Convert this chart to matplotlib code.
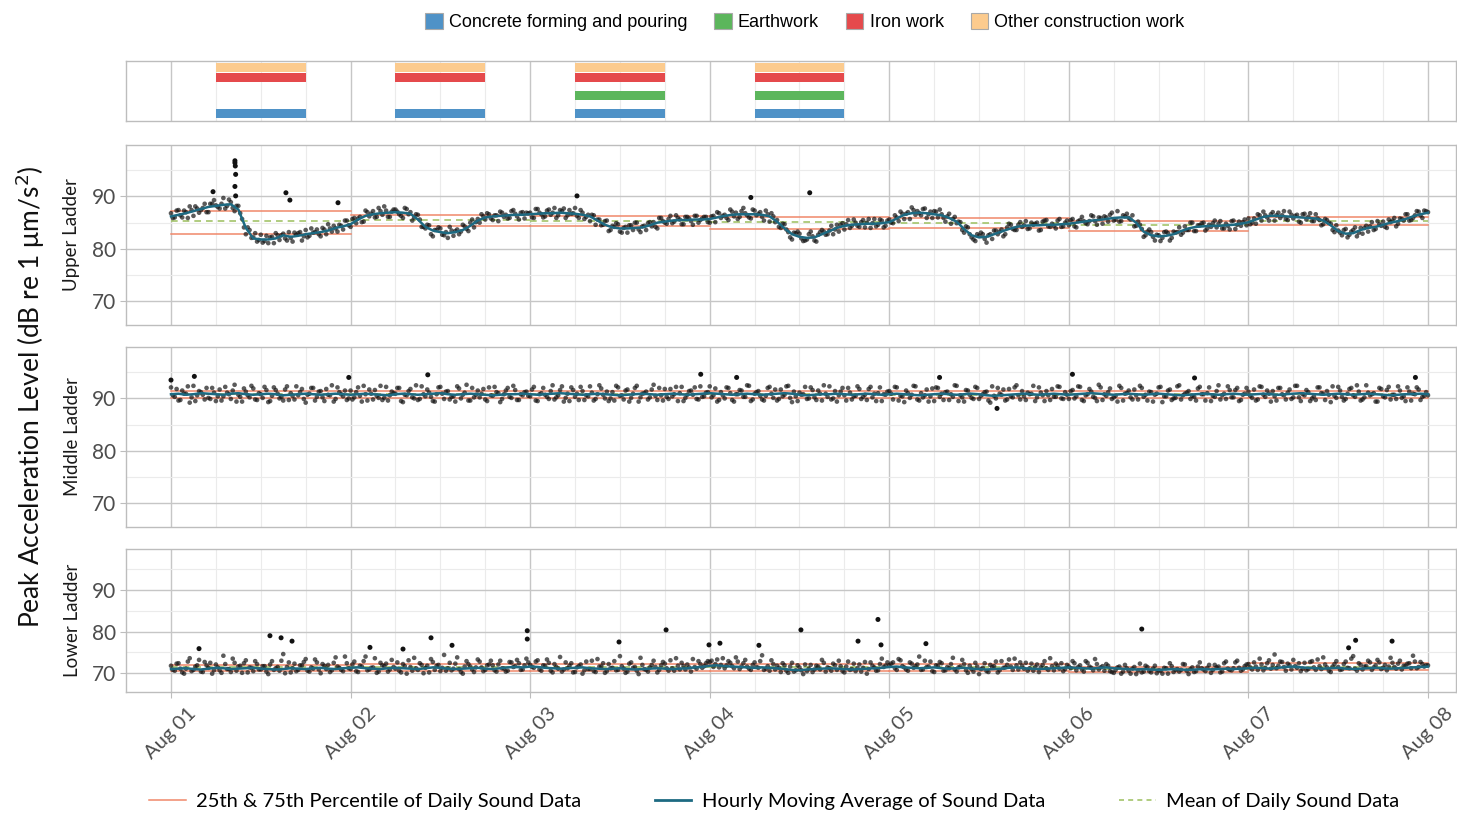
import numpy as np
import matplotlib
matplotlib.use("Agg")
import matplotlib.pyplot as plt
from matplotlib.patches import Patch
from matplotlib.lines import Line2D
from matplotlib.ticker import FixedLocator

plt.rcParams['font.family'] = ['Lato', 'DejaVu Sans']

# ---------------- data ----------------
day_labels = ['Aug 01', 'Aug 02', 'Aug 03', 'Aug 04', 'Aug 05', 'Aug 06', 'Aug 07', 'Aug 08']
ladders = ['Upper Ladder', 'Middle Ladder', 'Lower Ladder']

activity_names = ['Concrete forming and pouring', 'Earthwork', 'Iron work', 'Other construction work']
activity_day = [0, 0, 0, 1, 1, 1, 2, 2, 2, 2, 3, 3, 3, 3]
activity_kind = ['Other construction work', 'Iron work', 'Concrete forming and pouring',
                 'Other construction work', 'Iron work', 'Concrete forming and pouring',
                 'Other construction work', 'Iron work', 'Earthwork', 'Concrete forming and pouring',
                 'Other construction work', 'Iron work', 'Earthwork', 'Concrete forming and pouring']
work_start_hour = [6] * 14
work_end_hour = [18] * 14

# sound readings on the hour and half hour (dB)
upper_pts = [
    86.8, 86.0, 87.4, 86.0, 87.0, 88.1, 86.3, 87.7, 87.4, 88.6, 87.0, 88.6,
    88.3, 87.7, 89.7, 88.2, 88.9, 87.2, 88.2, 85.7, 82.8, 83.6, 82.2, 81.4,
    82.7, 81.5, 81.1, 82.3, 83.0, 81.7, 82.9, 81.6, 82.1, 83.1, 83.0, 81.6,
    83.6, 82.5, 83.1, 83.7, 82.4, 83.7, 84.7, 83.3, 83.9, 84.6, 83.7, 85.4,
    84.2, 85.9, 85.8, 85.1, 87.3, 86.2, 87.2, 86.1, 87.2, 88.1, 86.1, 87.1,
    87.5, 86.6, 85.9, 87.6, 87.0, 86.0, 86.5, 84.2, 83.9, 84.5, 82.4, 83.6,
    83.9, 82.6, 82.1, 83.5, 83.4, 82.8, 84.6, 83.8, 85.0, 84.1, 85.7, 86.6,
    85.6, 86.6, 85.5, 86.4, 87.1, 86.1, 85.8, 87.2, 86.7, 85.6, 87.0, 86.9,
    86.9, 85.9, 87.6, 86.6, 86.2, 87.5, 86.9, 85.9, 87.4, 87.7, 86.4, 86.7,
    87.8, 85.9, 86.9, 86.1, 85.3, 86.4, 85.6, 84.5, 85.3, 83.4, 84.4, 84.9,
    83.3, 84.0, 83.1, 84.5, 85.0, 83.7, 84.3, 83.6, 85.1, 85.1, 83.9, 85.9,
    85.0, 85.7, 84.9, 86.4, 85.6, 84.7, 86.1, 85.3, 86.3, 85.0, 85.8, 86.1,
    85.0, 86.3, 87.0, 85.9, 86.5, 85.5, 87.1, 86.9, 86.1, 87.8, 86.4, 85.8,
    87.3, 86.7, 86.1, 87.3, 85.2, 86.2, 85.5, 84.0, 84.7, 83.2, 81.8, 83.0,
    82.9, 81.5, 81.8, 83.3, 81.6, 82.7, 83.6, 82.7, 83.5, 82.8, 84.6, 84.6,
    83.7, 85.5, 84.4, 85.0, 84.2, 85.5, 85.0, 84.0, 85.7, 84.6, 85.4, 84.4,
    85.6, 84.9, 86.0, 87.1, 85.7, 87.0, 87.9, 86.5, 86.8, 87.6, 85.9, 87.1,
    87.2, 86.0, 86.6, 85.2, 86.7, 85.7, 84.9, 85.1, 83.1, 84.1, 82.2, 81.5,
    82.5, 82.8, 81.2, 82.8, 83.5, 82.8, 83.7, 82.8, 84.8, 83.8, 83.6, 85.1,
    84.5, 83.8, 85.0, 84.8, 83.5, 85.2, 85.5, 84.2, 84.4, 85.4, 84.2, 85.0,
    84.5, 85.7, 84.1, 85.5, 85.3, 84.7, 86.4, 85.3, 86.0, 84.8, 86.0, 86.5,
    85.4, 87.2, 85.3, 86.2, 85.9, 86.4, 84.4, 84.6, 82.3, 83.3, 83.2, 81.6,
    82.6, 82.1, 83.3, 81.6, 83.3, 83.2, 82.7, 84.3, 83.6, 85.0, 83.4, 84.5,
    85.0, 83.9, 84.2, 85.4, 84.8, 83.9, 84.8, 83.7, 85.4, 84.6, 84.4, 85.6,
    85.8, 85.0, 84.8, 86.4, 87.1, 86.0, 86.6, 85.4, 86.9, 86.4, 85.7, 87.1,
    85.8, 86.5, 85.0, 86.7, 86.1, 85.3, 86.6, 85.5, 84.7, 85.5, 84.8, 83.2,
    83.5, 82.6, 83.8, 82.7, 83.6, 82.4, 84.0, 84.0, 83.3, 85.1, 83.8, 84.7,
    85.2, 84.0, 85.1, 85.9, 84.8, 85.7, 86.6, 85.4, 85.9, 87.2, 86.4, 87.3,
    87.0]

# sound readings at quarter past and quarter to the hour (dB)
upper_pts_q = [
    85.9, 87.3, 86.4, 87.3, 85.9, 87.4, 88.1, 86.9, 87.8, 87.0, 88.6, 89.3,
    88.0, 88.6, 87.7, 89.4, 87.8, 88.2, 86.8, 84.1, 84.1, 82.1, 83.0, 81.7,
    81.2, 82.5, 82.2, 81.1, 82.6, 82.6, 82.0, 83.2, 81.4, 82.7, 83.2, 82.4,
    82.2, 83.9, 83.2, 82.8, 84.0, 82.8, 83.9, 84.4, 83.3, 84.4, 85.4, 84.5,
    85.7, 84.9, 86.1, 85.2, 87.0, 86.7, 86.0, 87.8, 86.5, 87.3, 86.1, 87.5,
    87.1, 86.3, 87.8, 86.6, 85.4, 86.6, 85.6, 84.2, 84.6, 82.8, 83.6, 84.1,
    82.7, 83.2, 84.2, 82.5, 83.7, 83.3, 84.3, 83.4, 85.6, 85.1, 85.0, 86.2,
    86.8, 85.8, 86.4, 85.3, 86.9, 86.5, 85.9, 87.4, 86.2, 86.9, 85.8, 86.8,
    86.0, 87.6, 86.9, 86.0, 87.3, 86.5, 87.8, 86.4, 87.2, 85.9, 87.4, 86.8,
    86.3, 87.4, 85.7, 86.5, 86.5, 84.6, 85.6, 84.6, 85.4, 83.6, 84.2, 84.7,
    83.1, 84.2, 84.5, 83.6, 85.0, 83.2, 84.4, 84.9, 84.3, 84.2, 85.9, 85.3,
    84.8, 86.3, 85.2, 85.9, 84.7, 86.1, 85.8, 84.6, 86.3, 85.5, 86.1, 85.1,
    86.2, 85.1, 86.8, 86.3, 85.9, 87.5, 86.2, 85.7, 87.2, 86.8, 86.0, 87.5,
    86.4, 87.0, 85.4, 86.6, 86.8, 85.1, 84.2, 84.8, 83.7, 82.2, 83.1, 83.3,
    82.0, 81.6, 82.8, 82.4, 81.4, 83.2, 83.3, 82.8, 84.4, 83.7, 83.3, 84.9,
    84.7, 84.0, 85.6, 84.4, 85.1, 84.1, 85.7, 84.9, 84.3, 85.6, 84.1, 85.4,
    85.0, 86.4, 85.3, 86.7, 86.7, 85.7, 87.4, 87.2, 86.4, 87.7, 86.6, 85.9,
    87.1, 87.5, 85.9, 86.2, 84.8, 86.1, 85.2, 83.6, 84.3, 82.8, 81.8, 82.8,
    83.1, 81.9, 82.6, 81.9, 83.5, 83.3, 82.4, 84.1, 84.6, 83.6, 84.6, 84.2,
    85.3, 83.9, 84.6, 85.0, 83.6, 85.4, 84.3, 84.8, 83.9, 85.7, 84.3, 85.4,
    85.5, 84.3, 85.3, 86.1, 84.9, 85.3, 86.2, 84.6, 85.9, 86.2, 85.2, 86.9,
    85.6, 85.2, 86.4, 86.7, 85.6, 84.3, 85.2, 83.8, 82.6, 83.7, 82.3, 82.7,
    81.5, 83.2, 83.0, 82.1, 83.1, 84.1, 83.1, 83.6, 85.0, 83.4, 84.5, 84.9,
    83.5, 84.6, 84.9, 84.1, 85.3, 83.9, 84.4, 85.3, 83.8, 85.2, 85.1, 84.5,
    84.7, 85.8, 86.6, 85.4, 86.4, 85.4, 87.0, 86.4, 85.9, 87.2, 85.5, 86.5,
    86.3, 85.2, 86.6, 85.6, 86.8, 85.3, 85.8, 84.5, 85.7, 85.0, 83.6, 84.5,
    83.1, 83.6, 82.2, 83.3, 84.1, 83.1, 82.9, 84.4, 84.3, 83.6, 85.3, 84.4,
    84.2, 85.6, 85.4, 84.3, 85.8, 85.4, 86.6, 85.5, 86.4, 87.1, 85.9, 87.2]

middle_pts = [
    92.1, 90.3, 89.6, 91.5, 90.9, 89.2, 92.4, 90.6, 91.2, 89.8, 90.1, 92.0,
    89.5, 91.7, 90.4, 91.1, 89.9, 92.6, 90.7, 89.4, 91.3, 90.2, 91.9, 89.7,
    90.8, 92.2, 89.3, 90.5, 91.6, 90.0, 89.6, 92.3, 91.0, 89.8, 90.6, 91.8,
    89.2, 90.9, 92.0, 90.3, 91.4, 89.5, 90.7, 92.5, 89.9, 91.2, 90.4, 89.7,
    91.5, 90.2, 92.1, 89.4, 90.8, 91.7, 89.8, 90.5, 92.4, 90.1, 89.6, 91.3,
    90.9, 92.0, 89.3, 90.6, 91.8, 90.0, 89.7, 92.3, 90.4, 91.1, 89.5, 90.8,
    92.2, 89.9, 91.4, 90.3, 89.4, 91.9, 90.7, 92.6, 89.6, 90.2, 91.5, 90.9,
    89.8, 92.1, 90.5, 91.2, 89.3, 90.8, 92.0, 90.1, 91.6, 89.7, 90.6, 91.3,
    90.4, 92.2, 89.5, 91.0, 90.7, 89.9, 92.5, 90.2, 91.6, 89.4, 90.9, 92.1,
    90.3, 89.7, 91.4, 90.6, 92.3, 89.6, 90.8, 91.9, 90.0, 89.5, 91.2, 92.4,
    90.5, 89.8, 91.7, 90.1, 92.0, 89.4, 90.9, 91.3, 90.2, 92.6, 89.7, 90.6,
    91.8, 89.9, 90.4, 92.2, 91.0, 89.5, 90.7, 91.5, 92.1, 89.8, 90.3, 91.1,
    92.3, 90.6, 89.4, 91.2, 90.0, 92.0, 89.7, 90.8, 91.6, 90.3, 92.5, 89.5,
    90.9, 91.4, 89.8, 90.5, 92.2, 90.1, 89.6, 91.7, 90.7, 92.4, 89.3, 90.4,
    91.1, 90.8, 89.9, 92.1, 90.2, 91.5, 89.6, 90.9, 92.3, 90.0, 89.4, 91.3,
    90.6, 92.0, 89.8, 90.5, 91.8, 90.3, 89.7, 92.2, 90.9, 91.0, 89.5, 90.7,
    91.4, 89.8, 92.1, 90.5, 89.3, 91.0, 90.7, 92.3, 89.6, 90.2, 91.7, 90.4,
    89.5, 92.0, 90.9, 91.2, 89.7, 90.3, 92.4, 90.6, 89.4, 91.5, 90.1, 92.2,
    89.9, 90.8, 91.3, 89.2, 90.5, 92.0, 90.7, 89.6, 91.8, 90.2, 92.5, 89.8,
    90.4, 91.1, 90.9, 89.5, 92.1, 90.6, 91.4, 89.7, 90.3, 92.3, 90.0, 91.2,
    89.9, 91.6, 90.4, 92.2, 89.5, 90.8, 91.3, 90.1, 92.6, 89.7, 90.5, 91.9,
    90.2, 89.4, 92.0, 90.9, 91.5, 89.8, 90.6, 92.4, 90.3, 89.6, 91.2, 90.7,
    92.1, 89.3, 90.4, 91.7, 90.0, 92.3, 89.8, 90.9, 91.4, 90.5, 89.6, 92.2,
    90.8, 91.0, 89.5, 90.3, 92.5, 90.6, 89.9, 91.6, 90.2, 92.0, 89.7, 90.9,
    91.3, 90.1, 89.6, 92.3, 90.7, 91.5, 89.4, 90.4, 92.0, 90.8, 89.8, 91.7,
    90.2, 92.4, 89.5, 90.6, 91.2, 90.0, 89.7, 92.1, 90.9, 91.4, 89.3, 90.5,
    92.2, 90.3, 89.9, 91.8, 90.6, 92.5, 89.6, 90.2, 91.1, 90.8, 89.4, 92.0,
    90.4, 91.6, 89.8, 90.7, 92.3, 90.1, 89.5, 91.3, 90.9, 92.1, 89.7, 90.5,
    90.6]

middle_pts_q = [
    90.6, 91.8, 89.7, 90.9, 92.3, 90.2, 89.5, 91.4, 90.7, 92.0, 89.9, 91.1,
    90.4, 89.6, 92.2, 90.8, 91.5, 89.4, 90.3, 91.9, 90.6, 92.4, 89.8, 91.0,
    90.1, 91.6, 89.5, 92.1, 90.9, 90.3, 91.7, 89.7, 90.5, 92.3, 91.2, 89.9,
    90.7, 92.0, 89.6, 91.3, 90.2, 91.8, 90.6, 89.4, 92.1, 90.8, 91.5, 90.0,
    89.8, 91.2, 90.5, 92.4, 89.6, 90.9, 91.6, 90.1, 89.7, 92.2, 90.6, 91.0,
    92.0, 89.5, 90.7, 91.4, 90.2, 92.5, 89.9, 90.8, 91.7, 90.3, 89.4, 92.1,
    90.9, 91.3, 89.8, 90.4, 92.3, 90.0, 91.1, 89.6, 92.0, 90.7, 90.2, 91.8,
    89.5, 90.6, 92.2, 91.0, 89.9, 91.5, 90.3, 92.4, 89.7, 90.8, 91.2, 90.5,
    91.7, 89.6, 90.8, 92.0, 90.3, 91.4, 89.8, 90.6, 92.3, 90.1, 89.5, 91.6,
    90.9, 92.2, 89.7, 90.4, 91.1, 89.9, 92.5, 90.7, 91.3, 90.0, 89.6, 92.1,
    90.6, 91.5, 89.4, 90.9, 92.4, 90.2, 91.0, 89.8, 91.7, 90.5, 92.0, 89.6,
    90.3, 91.8, 90.8, 89.5, 92.2, 90.1, 91.4, 90.7, 89.9, 92.3, 90.4, 91.2,
    90.2, 91.9, 89.7, 90.6, 92.1, 91.0, 89.4, 90.8, 91.5, 90.3, 92.4, 89.8,
    91.2, 90.5, 89.6, 92.0, 90.9, 91.7, 89.9, 90.4, 92.3, 90.1, 91.3, 89.5,
    90.7, 92.2, 90.0, 91.6, 89.7, 90.9, 92.5, 90.3, 89.8, 91.4, 90.6, 92.0,
    89.6, 91.1, 90.4, 92.3, 89.9, 90.7, 91.8, 90.2, 89.5, 92.1, 90.8, 91.3,
    90.9, 92.2, 89.6, 90.4, 91.5, 90.1, 92.4, 89.8, 91.0, 90.6, 89.4, 91.9,
    92.1, 90.3, 89.7, 91.3, 90.8, 92.5, 89.5, 90.2, 91.6, 90.7, 89.9, 92.0,
    90.5, 91.2, 89.6, 92.3, 90.0, 90.9, 91.7, 89.8, 90.4, 92.1, 90.6, 91.4,
    89.7, 90.8, 92.4, 90.2, 91.1, 89.5, 90.6, 91.8, 90.3, 92.2, 89.9, 90.7,
    91.4, 90.0, 92.3, 89.7, 90.6, 91.8, 90.3, 89.5, 92.1, 90.8, 91.2, 89.9,
    90.5, 92.4, 89.6, 91.0, 90.2, 91.7, 89.8, 92.0, 90.7, 91.3, 89.4, 90.9,
    92.2, 90.4, 91.5, 89.7, 90.1, 92.5, 90.6, 91.1, 89.9, 90.3, 91.9, 90.8,
    89.6, 92.1, 90.5, 91.4, 89.8, 90.9, 92.3, 90.2, 91.6, 89.5, 90.7, 92.0,
    90.5, 91.7, 89.8, 92.2, 90.3, 90.9, 91.4, 89.6, 92.0, 90.6, 91.1, 89.9,
    92.4, 90.2, 90.8, 91.6, 89.5, 90.4, 92.1, 91.0, 89.7, 90.7, 92.3, 90.1,
    91.5, 89.6, 90.9, 92.0, 90.3, 91.3, 89.8, 92.5, 90.6, 91.0, 89.4, 91.8,
    90.2, 92.2, 90.7, 89.9, 91.5, 90.4, 92.1, 89.6, 90.8, 91.7, 90.3, 91.2]

lower_pts = [
    71.8, 70.6, 72.4, 70.2, 71.1, 73.6, 70.8, 71.9, 70.4, 72.7, 71.3, 69.9,
    72.1, 70.7, 74.2, 71.0, 70.3, 72.5, 71.6, 70.1, 73.1, 71.4, 70.5, 72.2,
    70.9, 71.7, 69.8, 72.9, 71.2, 70.6, 74.6, 71.5, 70.2, 72.3, 70.8, 71.9,
    73.4, 70.4, 71.1, 72.6, 70.0, 71.8, 72.0, 70.7, 73.8, 71.3, 70.5, 72.4,
    71.0, 72.8, 70.3, 71.6, 74.0, 70.9, 71.4, 70.1, 72.5, 71.7, 70.4, 73.2,
    71.1, 70.6, 72.2, 69.9, 71.5, 73.7, 70.8, 72.0, 71.3, 70.2, 72.7, 71.8,
    70.5, 74.4, 71.2, 70.7, 72.3, 71.0, 69.9, 72.9, 71.6, 70.3, 73.3, 71.4,
    70.8, 72.1, 71.9, 70.4, 73.0, 71.1, 70.6, 72.6, 71.7, 72.4, 70.9, 73.5,
    72.0, 71.3, 73.1, 70.6, 71.8, 72.5, 70.2, 71.5, 73.9, 70.9, 71.2, 72.4,
    70.3, 71.7, 69.9, 72.8, 71.0, 70.5, 73.4, 71.6, 70.1, 72.2, 71.3, 70.7,
    74.1, 71.1, 70.4, 72.6, 71.5, 69.8, 72.0, 70.8, 71.4, 73.0, 70.2, 71.9,
    72.3, 70.6, 71.2, 73.6, 70.9, 71.7, 72.1, 70.4, 71.5, 72.9, 71.3, 72.4,
    72.7, 71.5, 73.3, 72.0, 71.2, 72.9, 71.7, 73.8, 71.0, 72.4, 71.6, 70.8,
    72.6, 71.3, 74.3, 71.1, 70.6, 72.2, 71.8, 70.3, 71.9, 70.1, 72.5, 70.7,
    71.4, 69.8, 70.5, 72.0, 70.9, 71.6, 73.2, 70.4, 71.2, 72.3, 70.8, 71.7,
    70.2, 72.8, 71.0, 70.5, 72.1, 71.3, 69.9, 72.6, 71.4, 70.7, 73.5, 71.8,
    71.9, 72.6, 70.8, 73.1, 71.4, 70.6, 72.3, 71.7, 74.0, 70.9, 71.5, 72.8,
    70.3, 71.8, 72.4, 70.7, 71.2, 73.7, 70.4, 71.6, 72.2, 70.1, 71.0, 72.5,
    69.8, 71.3, 70.5, 72.0, 71.7, 70.2, 72.9, 71.4, 73.3, 70.8, 71.9, 72.6,
    71.1, 70.6, 72.3, 71.5, 70.3, 72.0, 71.2, 73.6, 70.7, 71.8, 72.4, 71.0,
    71.6, 72.9, 70.7, 71.9, 70.4, 72.5, 71.3, 73.4, 70.9, 71.7, 72.2, 70.5,
    70.1, 71.4, 69.9, 72.0, 70.6, 71.1, 69.8, 72.3, 70.4, 71.5, 70.2, 71.8,
    70.7, 69.9, 71.2, 72.4, 70.3, 71.0, 70.8, 72.1, 69.8, 71.4, 70.5, 72.6,
    70.9, 71.3, 70.1, 72.0, 71.6, 70.4, 72.8, 70.8, 71.2, 73.0, 70.6, 71.7,
    72.2, 70.9, 71.6, 73.5, 70.7, 72.4, 71.1, 74.5, 71.8, 72.7, 70.6, 71.9,
    73.2, 71.3, 70.5, 72.5, 71.0, 72.9, 70.8, 71.7, 73.8, 71.4, 70.3, 72.2,
    71.5, 70.9, 72.8, 71.2, 74.1, 70.6, 72.0, 71.6, 73.0, 70.8, 71.9, 72.6,
    71.3, 70.7, 73.7, 71.5, 72.3, 70.9, 71.8, 72.4, 74.2, 71.2, 72.7, 71.6,
    71.9]

lower_pts_q = [
    70.8, 72.3, 71.1, 69.9, 72.8, 70.5, 71.6, 73.2, 70.3, 71.9, 72.5, 70.7,
    71.4, 70.1, 72.2, 71.0, 73.5, 70.6, 71.8, 72.4, 70.2, 71.3, 72.9, 70.9,
    71.7, 70.4, 72.1, 70.8, 71.5, 73.0, 70.0, 72.6, 71.2, 70.5, 71.9, 72.7,
    70.6, 71.4, 73.3, 70.9, 72.2, 71.0, 70.3, 72.5, 71.6, 70.8, 74.0, 71.2,
    72.1, 70.5, 71.8, 72.9, 70.7, 71.3, 73.6, 70.4, 71.9, 72.3, 70.9, 71.5,
    72.6, 70.2, 71.7, 73.1, 70.6, 71.2, 72.4, 70.0, 71.8, 73.4, 70.8, 72.0,
    71.3, 70.6, 72.5, 71.1, 73.8, 70.3, 71.6, 72.2, 70.9, 71.4, 72.8, 70.5,
    71.9, 73.0, 70.7, 72.1, 71.2, 70.4, 72.7, 71.5, 73.2, 70.8, 71.9, 72.6,
    71.5, 72.8, 70.9, 71.9, 73.3, 70.6, 72.2, 71.1, 70.4, 72.6, 71.8, 70.2,
    71.4, 72.1, 70.7, 71.0, 73.0, 70.3, 71.6, 72.4, 70.5, 71.2, 72.9, 70.8,
    71.7, 70.1, 72.3, 71.3, 70.6, 73.7, 71.0, 70.4, 72.0, 71.5, 70.8, 72.7,
    71.2, 73.1, 70.6, 71.8, 72.5, 70.9, 71.4, 73.4, 71.1, 72.2, 71.7, 72.9,
    73.0, 72.2, 71.4, 73.6, 71.9, 72.5, 71.2, 72.8, 71.6, 73.2, 71.1, 72.0,
    71.5, 72.9, 70.8, 71.7, 73.1, 70.9, 71.3, 72.4, 70.6, 71.6, 70.4, 71.9,
    70.7, 72.1, 71.1, 70.3, 71.8, 70.9, 72.5, 71.4, 70.6, 71.9, 73.0, 70.5,
    71.6, 70.8, 72.3, 71.2, 70.4, 72.7, 71.0, 71.8, 70.6, 72.2, 71.5, 72.6,
    72.3, 71.2, 73.4, 71.7, 70.9, 72.6, 71.3, 72.1, 70.8, 73.0, 71.6, 70.5,
    71.9, 72.7, 70.6, 71.5, 72.2, 70.9, 71.4, 73.2, 70.7, 71.8, 70.4, 71.6,
    71.0, 72.4, 70.3, 71.5, 72.8, 70.7, 71.3, 72.0, 71.6, 73.5, 70.9, 71.8,
    72.5, 71.2, 70.6, 72.1, 71.4, 72.9, 70.8, 71.7, 72.3, 71.1, 70.5, 72.0,
    71.2, 72.4, 71.5, 70.9, 72.9, 71.6, 70.7, 72.2, 71.4, 70.6, 71.8, 70.3,
    70.8, 71.6, 70.4, 71.2, 69.9, 71.5, 70.7, 70.2, 71.8, 70.5, 71.1, 70.0,
    70.6, 71.3, 69.9, 71.7, 70.8, 70.4, 72.2, 70.6, 71.0, 70.3, 71.6, 71.2,
    70.5, 72.0, 70.8, 71.4, 70.2, 72.4, 71.1, 70.7, 72.6, 71.3, 70.9, 72.1,
    71.4, 72.6, 70.8, 72.1, 71.3, 73.1, 72.0, 71.2, 72.8, 71.5, 72.3, 70.9,
    71.7, 72.4, 71.1, 70.7, 72.7, 71.4, 73.3, 71.0, 72.1, 70.6, 71.6, 72.9,
    70.8, 72.2, 71.3, 73.5, 71.1, 72.4, 70.9, 71.7, 72.6, 71.4, 73.2, 71.0,
    72.0, 71.6, 72.5, 71.1, 73.0, 71.8, 72.3, 71.2, 72.8, 71.5, 72.2, 71.9]

# hourly moving average (dB)
upper_ma = [
    86.2, 86.5, 86.8, 87.2, 87.6, 88.0, 88.2, 88.4, 88.5, 87.5, 84.0, 82.0,
    81.8, 81.8, 82.0, 82.6, 82.3, 82.5, 82.8, 83.0, 83.2, 83.5, 84.0, 84.3,
    84.7, 85.6, 86.3, 86.6, 86.8, 86.9, 87.0, 86.9, 86.7, 85.6, 84.2, 83.5,
    83.2, 83.0, 83.2, 83.6, 84.4, 85.4, 86.0, 86.2, 86.3, 86.4, 86.5, 86.5,
    86.6, 86.7, 86.8, 86.8, 86.9, 86.8, 86.7, 86.5, 86.2, 85.4, 84.6, 84.1,
    83.9, 83.9, 84.0, 84.1, 84.5, 85.0, 85.2, 85.4, 85.5, 85.5, 85.6, 85.6,
    85.7, 86.0, 86.3, 86.5, 86.6, 86.6, 86.6, 86.5, 86.2, 85.2, 83.9, 82.8,
    82.3, 82.1, 82.2, 82.8, 83.4, 84.0, 84.4, 84.6, 84.7, 84.8, 84.8, 84.9,
    85.1, 85.8, 86.5, 86.8, 86.9, 86.8, 86.6, 86.4, 85.9, 85.2, 83.8, 82.6,
    82.2, 82.3, 82.8, 83.3, 83.8, 84.2, 84.4, 84.5, 84.5, 84.6, 84.6, 84.7,
    84.8, 85.0, 85.2, 85.4, 85.5, 85.7, 85.9, 86.0, 86.0, 85.0, 83.3, 82.6,
    82.4, 82.5, 82.8, 83.4, 83.9, 84.2, 84.3, 84.4, 84.4, 84.5, 84.6, 84.8,
    85.1, 85.6, 86.1, 86.3, 86.3, 86.2, 86.1, 86.0, 85.9, 85.8, 85.4, 84.5,
    83.4, 82.9, 83.0, 83.6, 84.0, 84.2, 84.6, 85.0, 85.3, 85.7, 86.2, 86.6,
    86.9]

middle_ma = [
    90.8, 90.9, 90.7, 90.8, 91.0, 90.9, 90.8, 90.7, 90.9, 91.0, 90.8, 90.7,
    90.8, 90.9, 90.8, 90.6, 90.7, 90.8, 90.9, 90.8, 90.7, 90.8, 90.9, 90.8,
    90.7, 90.8, 90.9, 90.8, 90.7, 90.6, 90.8, 90.9, 90.8, 90.7, 90.8, 90.9,
    91.0, 90.8, 90.7, 90.8, 90.9, 90.8, 90.7, 90.6, 90.7, 90.8, 90.8, 90.9,
    90.8, 90.7, 90.8, 90.9, 91.0, 90.9, 90.8, 90.7, 90.8, 90.9, 90.8, 90.7,
    90.6, 90.7, 90.8, 90.9, 90.8, 90.7, 90.8, 90.9, 90.8, 90.7, 90.8, 90.9,
    91.0, 90.9, 90.8, 90.7, 90.8, 90.9, 90.8, 90.7, 90.8, 90.9, 91.0, 90.9,
    90.7, 90.6, 90.7, 90.8, 90.8, 90.9, 90.8, 90.7, 90.8, 90.9, 90.8, 90.7,
    90.8, 90.9, 90.8, 90.7, 90.6, 90.7, 90.8, 90.9, 90.8, 90.7, 90.8, 90.9,
    90.8, 90.6, 90.5, 90.6, 90.7, 90.8, 90.9, 90.8, 90.7, 90.8, 90.9, 90.8,
    90.7, 90.8, 90.9, 91.0, 90.9, 90.8, 90.7, 90.8, 90.9, 90.8, 90.7, 90.8,
    90.9, 90.8, 90.7, 90.6, 90.7, 90.8, 90.9, 90.8, 90.7, 90.8, 90.9, 90.8,
    90.7, 90.8, 90.9, 90.8, 90.7, 90.8, 90.9, 91.0, 90.9, 90.8, 90.7, 90.8,
    90.9, 90.8, 90.7, 90.8, 90.9, 90.8, 90.7, 90.6, 90.7, 90.8, 90.8, 90.9,
    90.8]

lower_ma = [
    71.0, 71.1, 71.2, 71.0, 70.9, 71.1, 71.3, 71.2, 71.0, 71.1, 71.2, 71.3,
    71.1, 71.0, 70.9, 71.0, 71.2, 71.1, 71.0, 71.2, 71.3, 71.1, 71.0, 71.2,
    71.3, 71.4, 71.2, 71.1, 71.0, 71.2, 71.3, 71.2, 71.1, 71.0, 71.2, 71.4,
    71.3, 71.1, 71.0, 71.1, 71.2, 71.3, 71.1, 71.0, 71.2, 71.4, 71.5, 71.4,
    71.6, 71.5, 71.3, 71.2, 71.1, 71.2, 71.3, 71.4, 71.2, 71.1, 71.0, 71.1,
    71.2, 71.0, 70.9, 71.0, 71.1, 71.2, 71.1, 71.0, 71.1, 71.2, 71.4, 71.5,
    71.8, 71.9, 71.7, 71.6, 71.5, 71.4, 71.3, 71.4, 71.3, 71.2, 71.0, 70.8,
    70.7, 70.9, 71.0, 71.1, 71.2, 71.1, 71.0, 70.9, 71.0, 71.1, 71.2, 71.3,
    71.5, 71.6, 71.4, 71.3, 71.2, 71.3, 71.4, 71.2, 71.1, 71.2, 71.3, 71.1,
    71.0, 70.9, 71.0, 71.1, 71.3, 71.4, 71.2, 71.1, 71.0, 71.1, 71.2, 71.3,
    71.4, 71.3, 71.2, 71.1, 71.3, 71.4, 71.2, 71.1, 71.0, 70.9, 71.0, 70.9,
    70.8, 70.9, 71.0, 70.9, 70.8, 70.9, 71.0, 70.9, 71.0, 71.1, 71.0, 71.1,
    71.2, 71.3, 71.2, 71.1, 71.3, 71.5, 71.6, 71.4, 71.3, 71.2, 71.1, 71.2,
    71.3, 71.1, 71.0, 71.1, 71.2, 71.3, 71.2, 71.1, 71.2, 71.3, 71.4, 71.5,
    71.6]

# isolated high readings (time in days since Aug 01, dB)
upper_out_t = [0.356, 0.356, 0.358, 0.360, 0.356, 0.360, 0.234, 0.640, 0.662, 0.930, 2.261, 3.229, 3.557]
upper_out_v = [96.8, 96.4, 95.8, 94.2, 91.9, 90.1, 90.9, 90.7, 89.3, 88.8, 90.1, 89.8, 90.7]
middle_out_t = [0.000, 0.130, 0.990, 1.430, 2.950, 3.150, 4.280, 5.020, 5.700, 6.930, 4.600]
middle_out_v = [93.5, 94.2, 94.0, 94.5, 94.6, 94.0, 94.0, 94.6, 93.9, 94.0, 88.1]
lower_out_t = [0.156, 0.551, 0.613, 0.674, 1.108, 1.292, 1.448, 1.565, 1.984, 1.984, 2.495, 2.757,
               2.996, 3.057, 3.274, 3.508, 3.826, 3.937, 3.954, 4.204, 5.406, 6.558, 6.597, 6.800]
lower_out_v = [75.9, 79.0, 78.5, 77.7, 76.2, 75.8, 78.5, 76.7, 80.2, 78.2, 77.5, 80.4,
               76.8, 77.2, 76.7, 80.4, 77.7, 82.9, 76.8, 77.1, 80.6, 76.1, 77.9, 77.7]

# daily statistics (dB)
upper_p25 = [82.9, 84.4, 84.4, 83.8, 83.9, 83.4, 84.6]
upper_p75 = [87.2, 86.5, 86.3, 86.0, 85.8, 85.3, 86.1]
upper_mean = [85.3, 85.6, 85.3, 85.1, 84.9, 84.5, 85.3]
middle_p25 = [90.1, 90.1, 90.1, 90.1, 90.0, 90.1, 90.1]
middle_p75 = [91.5, 91.5, 91.5, 91.5, 91.4, 91.5, 91.5]
middle_mean = [90.8, 90.8, 90.8, 90.8, 90.7, 90.8, 90.8]
lower_p25 = [70.5, 70.6, 70.5, 70.6, 70.6, 70.3, 70.7]
lower_p75 = [72.0, 72.2, 72.1, 72.3, 72.2, 71.6, 72.4]
lower_mean = [71.4, 71.5, 71.4, 71.5, 71.5, 71.0, 71.6]

# ---------------- style ----------------
act_colors = {'Concrete forming and pouring': '#4f92c7', 'Earthwork': '#5cb65c',
              'Iron work': '#e54a4c', 'Other construction work': '#fccb8e'}
act_row = {'Concrete forming and pouring': 1.0, 'Earthwork': 2.0,
           'Iron work': 3.0, 'Other construction work': 3.55}
col_pct = '#f0876a'
col_ma = '#1d6a82'
col_mean = '#a3c46a'
col_major = '#c6c6c6'
col_minor = '#ebebeb'
col_border = '#bdbdbd'
XLIM = (-0.2506, 7.156)
YLIM = (65.5, 99.8)

W, H = 1457, 813
fig = plt.figure(figsize=(W / 100, H / 100), dpi=100)


def px_axes(left, top, right, bottom):
    return fig.add_axes([left / W, 1 - bottom / H, (right - left) / W, (bottom - top) / H])


def style_time_axis(ax):
    ax.set_xlim(*XLIM)
    ax.xaxis.set_major_locator(FixedLocator(range(len(day_labels))))
    ax.xaxis.set_minor_locator(FixedLocator([d / 4 for d in range(0, 29) if d % 4]))
    ax.grid(which='major', axis='x', color=col_major, lw=1.0, zorder=0)
    ax.grid(which='minor', axis='x', color=col_minor, lw=0.8, zorder=0)
    for s in ax.spines.values():
        s.set_color(col_border)
        s.set_linewidth(1.0)
    ax.set_axisbelow(True)
    ax.tick_params(axis='x', which='both', length=0, labelbottom=False)


# activity panel
ax0 = px_axes(126, 61, 1456, 121)
style_time_axis(ax0)
for d, k, s, e in zip(activity_day, activity_kind, work_start_hour, work_end_hour):
    ax0.barh(act_row[k], (e - s) / 24, left=d + s / 24, height=0.5,
             color=act_colors[k], edgecolor='none', zorder=2)
ax0.set_ylim(0.577, 3.91)
ax0.set_yticks([])

panels = [
    ('Upper Ladder', (145, 325), upper_pts, upper_pts_q, upper_ma, upper_out_t, upper_out_v,
     upper_p25, upper_p75, upper_mean),
    ('Middle Ladder', (347, 527), middle_pts, middle_pts_q, middle_ma, middle_out_t, middle_out_v,
     middle_p25, middle_p75, middle_mean),
    ('Lower Ladder', (549, 692), lower_pts, lower_pts_q, lower_ma, lower_out_t, lower_out_v,
     lower_p25, lower_p75, lower_mean),
]

axes = []
for name, (top, bot), pts, pts_q, ma, ot, ov, p25, p75, mean in panels:
    ax = px_axes(126, top, 1456, bot)
    style_time_axis(ax)
    ax.set_ylim(*YLIM)
    ax.set_yticks([70, 80, 90])
    ax.yaxis.set_minor_locator(FixedLocator([75, 85, 95]))
    ax.grid(which='major', axis='y', color=col_major, lw=1.0, zorder=0)
    ax.grid(which='minor', axis='y', color=col_minor, lw=0.8, zorder=0)
    ax.tick_params(axis='y', which='major', length=4, color=col_border, labelsize=15,
                   labelcolor='#4d4d4d', pad=3)
    ax.tick_params(axis='y', which='minor', length=0)
    t_pts = np.arange(len(pts)) / 48.0
    t_q = (np.arange(len(pts_q)) + 0.5) / 48.0
    t_ma = np.arange(len(ma)) / 24.0
    for d in range(len(p25)):
        ax.plot([d, d + 1], [p25[d], p25[d]], color=col_pct, lw=1.1, zorder=2)
        ax.plot([d, d + 1], [p75[d], p75[d]], color=col_pct, lw=1.1, zorder=2)
        ax.plot([d, d + 1], [mean[d], mean[d]], color=col_mean, lw=1.2, ls=(0, (4, 3)), zorder=2)
    ax.scatter(np.concatenate([t_pts, t_q]), np.concatenate([pts, pts_q]), s=11,
               color='#151515', alpha=0.7, edgecolors='none', zorder=3)
    ax.scatter(ot, ov, s=13, color='#111111', edgecolors='none', zorder=3)
    ax.plot(t_ma, ma, color=col_ma, lw=1.8, zorder=4)
    fig.text(72 / W, 1 - (top + bot) / 2 / H, name, rotation=90, ha='center', va='center',
             fontsize=13.5, color='#1a1a1a')
    axes.append(ax)

axl = axes[-1]
axl.tick_params(axis='x', which='major', length=4, color=col_border, labelbottom=True,
                labelsize=14.5, labelcolor='#4d4d4d', pad=5)
axl.set_xticklabels(day_labels, rotation=45, ha='center', va='top')

fig.text(30 / W, 1 - 397 / H, 'Peak Acceleration Level (dB re 1 μm/s$^2$)', rotation=90,
         ha='center', va='center', fontsize=19, color='#111111')

# top legend
top_handles = [Patch(facecolor=act_colors[n], edgecolor='#a9a9a9', lw=0.8) for n in activity_names]
fig.legend(top_handles, activity_names, loc='center', bbox_to_anchor=(805 / W, 1 - 22 / H),
           ncol=4, frameon=False, handlelength=0.95, handleheight=0.95, handletextpad=0.35,
           columnspacing=1.5, prop={'family': ['Liberation Sans', 'DejaVu Sans'], 'size': 13.0})

# bottom legend
bot_handles = [Line2D([], [], color=col_pct, lw=1.1),
               Line2D([], [], color=col_ma, lw=2.0),
               Line2D([], [], color=col_mean, lw=1.2, ls=(0, (3, 2.5)))]
bot_labels = ['25th & 75th Percentile of Daily Sound Data', 'Hourly Moving Average of Sound Data',
              'Mean of Daily Sound Data']
fig.legend(bot_handles, bot_labels, loc='center', bbox_to_anchor=(774 / W, 1 - 801 / H), ncol=3,
           frameon=False, handlelength=1.8, handletextpad=0.5, columnspacing=3.7,
           prop={'family': ['Lato', 'DejaVu Sans'], 'size': 14.5})

fig.savefig('out.png', dpi=100)
